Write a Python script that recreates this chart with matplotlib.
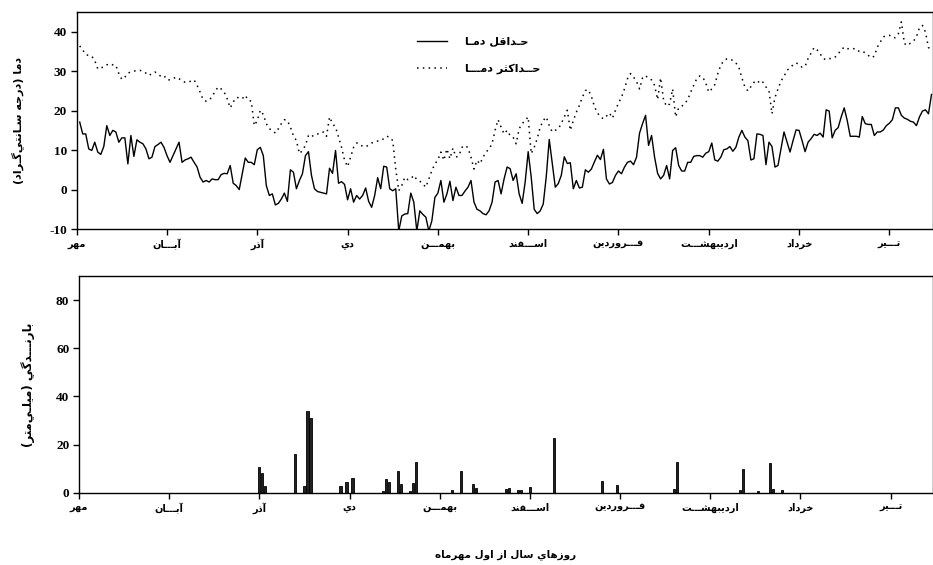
import numpy as np
import matplotlib
matplotlib.use("Agg")
import matplotlib.pyplot as plt

# persian letters -> (isolated, final, initial, medial) presentation forms
FORMS = {
    'ا': '\ufe8d\ufe8e', 'آ': '\ufe81\ufe82', 'د': '\ufea9\ufeaa', 'ذ': '\ufeab\ufeac',
    'ر': '\ufead\ufeae', 'ز': '\ufeaf\ufeb0', 'و': '\ufeed\ufeee',
    'ب': '\ufe8f\ufe90\ufe91\ufe92', 'ت': '\ufe95\ufe96\ufe97\ufe98',
    'ث': '\ufe99\ufe9a\ufe9b\ufe9c', 'ج': '\ufe9d\ufe9e\ufe9f\ufea0',
    'ح': '\ufea1\ufea2\ufea3\ufea4', 'خ': '\ufea5\ufea6\ufea7\ufea8',
    'س': '\ufeb1\ufeb2\ufeb3\ufeb4', 'ش': '\ufeb5\ufeb6\ufeb7\ufeb8',
    'ف': '\ufed1\ufed2\ufed3\ufed4', 'ق': '\ufed5\ufed6\ufed7\ufed8',
    'ل': '\ufedd\ufede\ufedf\ufee0', 'م': '\ufee1\ufee2\ufee3\ufee4',
    'ن': '\ufee5\ufee6\ufee7\ufee8', 'ه': '\ufee9\ufeea\ufeeb\ufeec',
    'ي': '\ufef1\ufef2\ufef3\ufef4', 'ک': '\ufb8e\ufb8f\ufb90\ufb91',
    'گ': '\ufb92\ufb93\ufb94\ufb95',
}
DUAL = set('بتثجحخسشفقلمنهيکگـ')
RIGHT = set('اآدذرزو')


def fa(s):
    out = []
    for i, c in enumerate(s):
        if c not in FORMS:
            out.append(c)
            continue
        prev = s[i - 1] if i > 0 else ''
        nxt = s[i + 1] if i < len(s) - 1 else ''
        jp = prev in DUAL
        jn = c in DUAL and (nxt in DUAL or nxt in RIGHT)
        f = FORMS[c]
        if len(f) == 2:
            out.append(f[1] if jp else f[0])
        else:
            out.append(f[3] if jp and jn else f[1] if jp else f[2] if jn else f[0])
    vis = ''.join(reversed(out)).replace('\u200c', '')
    return vis.translate(str.maketrans('()', ')('))


# daily minimum / maximum temperature, day 1 = 1 Mehr
tmin = [17.1, 14.1, 14.1, 10.3, 9.9, 12.0, 9.5, 8.9, 10.9, 16.2,
        13.7, 15.0, 14.6, 12.0, 13.1, 13.1, 6.5, 13.7, 8.4, 12.6,
        12.0, 11.6, 10.3, 7.8, 8.2, 10.9, 11.4, 12.0, 10.7, 8.6,
        6.9, 8.6, 10.3, 12.0, 6.9, 7.5, 7.8, 8.2, 6.9, 5.7,
        3.1, 1.9, 2.3, 1.9, 2.7, 2.5, 2.5, 3.8, 4.1, 4.0,
        6.1, 1.6, 1.0, 0.0, 4.0, 8.0, 6.9,
        6.9, 6.3, 10.1, 10.7, 8.6, 1.0, -1.5, -1.1, -3.9, -3.5,
        -2.4, -0.9, -3.0, 5.0, 4.4, 0.2, 2.3, 4.0, 8.6, 9.6,
        3.6, 0.2, -0.5, -0.7, -0.9, -1.1, 5.4, 4.1, 9.9, 1.6,
        2.0, 1.3, -2.6, 0.2, -3.2, -1.5, -2.4, -1.5, 0.4, -3.0,
        -4.5, -1.5, 3.0, 0.2, 5.9, 5.7, 0.2, -0.3, 0.2, -10.5,
        -6.7, -6.2, -6.1, -0.9, -3.2, -10.5, -5.4,
        -6.3, -7.0, -10.5, -7.9, -2.0, -0.9, 2.3, -3.2, -1.1, 2.1,
        -2.8, 0.6, -1.5, -1.5, -0.4, 0.6, 2.3, -3.2, -5.0, -5.4,
        -6.1, -6.4, -5.4, -3.2, 1.9, 2.3, -1.1, 2.7, 5.7, 5.3,
        2.3, 4.0, -1.1, -3.5, 1.9, 9.6, 3.2, -5.0, -6.1, -5.4,
        -3.7, 3.2, 12.7, 6.6, 0.6, 1.5, 3.6, 8.3, 6.6, 6.8,
        0.2, 2.3, 0.4, 0.6, 5.0, 4.4, 5.2, 7.0, 8.7, 7.6,
        10.2, 2.7, 1.4, 1.8, 3.6, 4.7,
        4.0, 5.7, 6.9, 7.2, 6.3, 8.2, 14.3, 16.7, 18.8, 11.2,
        13.7, 8.2, 4.1, 2.7, 3.6, 6.1, 2.7, 9.9, 10.6, 6.1,
        4.7, 4.7, 6.9, 6.9, 8.4, 8.6, 8.6, 8.2, 9.2, 9.6,
        11.8, 7.5, 7.2, 8.2, 10.1, 10.3, 10.9, 9.7, 10.7, 13.3,
        15.0, 13.3, 12.4, 7.5, 7.8, 14.1, 14.0,
        13.7, 6.3, 12.0, 10.9, 5.7, 6.1, 10.3, 14.6, 12.0, 9.5,
        12.4, 15.1, 15.0, 12.4, 9.6, 12.0, 12.9, 14.0, 13.7, 14.3,
        13.3, 20.2, 19.9, 13.1, 15.0, 15.7, 18.4, 20.7, 17.5, 13.5,
        13.5, 13.5, 13.3, 18.5, 16.7, 16.5, 16.5, 13.7, 14.6, 14.6,
        15.1, 16.2, 16.8, 17.7, 20.7, 20.7, 18.8, 18.1, 17.8, 17.3,
        17.1, 16.2, 18.4, 19.9, 20.2, 19.2, 24.1]

tmax = [36.4, 35.4, 34.2, 34.0, 33.8, 32.7, 30.6, 30.9, 31.0, 31.6,
        31.9, 31.6, 31.5, 29.4, 27.9, 28.5, 29.5, 29.8, 30.0, 30.2,
        30.2, 30.0, 29.5, 28.9, 29.4, 29.8, 29.2, 28.7, 28.9, 27.8,
        27.8, 28.1, 28.5, 28.1, 27.5, 27.2, 27.2, 27.5, 27.8, 26.4,
        24.7, 22.8, 22.4, 22.6, 23.6, 24.9, 26.0, 25.5, 24.7, 23.0,
        20.7, 22.2, 23.3, 23.3, 23.0, 23.9, 22.6,
        22.4, 16.2, 17.5, 20.1, 19.0, 16.7, 15.4, 15.0, 14.3, 15.4,
        16.7, 17.7, 17.5, 15.8, 13.7, 12.4, 9.1, 9.9, 11.2, 13.7,
        13.3, 14.0, 14.1, 14.1, 14.6, 13.5, 18.4, 16.7, 15.8, 13.3,
        10.7, 7.4, 5.8, 8.2, 10.7, 11.8, 11.6, 10.9, 10.9, 11.2,
        11.8, 12.0, 12.3, 12.4, 12.9, 13.5, 13.3, 12.4, 5.2, -0.3,
        1.0, 3.1, 2.5, 2.7, 3.6, 2.5, 2.1,
        1.4, 0.6, 2.7, 4.8, 6.5, 7.5, 9.5, 7.4, 10.3, 7.8,
        10.5, 8.2, 8.6, 10.7, 11.2, 10.6, 8.2, 5.2, 7.4, 6.5,
        8.2, 9.5, 10.3, 11.6, 15.0, 17.7, 15.8, 14.1, 15.0, 13.7,
        13.3, 11.6, 15.4, 16.7, 17.5, 18.4, 9.1, 10.7, 12.9, 15.8,
        17.5, 18.4, 16.2, 14.6, 15.0, 15.4, 16.7, 18.4, 20.1, 15.0,
        17.5, 19.6, 21.3, 23.4, 25.1, 25.3,
        23.6, 21.1, 19.4, 18.5, 17.9, 18.6, 19.4, 18.1, 20.1, 21.9,
        23.4, 25.5, 28.1, 29.4, 28.5, 27.4, 25.5, 28.3, 28.9, 28.1,
        27.8, 26.4, 22.8, 28.3, 22.6, 21.1, 21.7, 25.5, 18.4, 20.7,
        21.1, 21.7, 22.8, 24.7, 26.4, 28.1, 28.8, 28.5, 27.0, 24.7,
        25.5, 26.6, 29.4, 31.5, 32.7, 33.1, 33.1, 32.7, 32.1, 31.0,
        28.3, 26.0, 25.0, 26.1, 27.2,
        26.8, 27.7, 27.2, 26.0, 25.1, 19.2, 23.3, 25.5, 27.5, 28.7,
        30.2, 30.9, 31.6, 32.1, 31.7, 31.0, 31.2, 33.2, 34.6, 36.0,
        35.4, 34.4, 33.2, 32.9, 33.2, 33.2, 33.6, 34.4, 35.4, 36.1,
        35.7, 35.7, 35.7, 35.7, 35.0, 35.1, 34.6, 34.0, 33.4, 33.8,
        36.1, 37.4, 38.7, 39.0, 39.1, 38.5, 38.5, 39.5, 42.5, 37.0,
        36.5, 37.1, 37.6, 38.7, 41.0, 41.6, 39.9, 36.0, 35.3]

# rainy days (days after 1 Mehr) and rainfall in mm
rain_day = [60, 61, 62, 72, 75, 76, 77, 87, 89, 91,
            101, 102, 103, 106, 107, 110, 111, 112, 124, 127,
            131, 132, 142, 143, 146, 147, 150, 158, 174, 179,
            198, 199, 220, 221, 226, 230, 231, 234]
rain_mm = [10.5, 8.2, 2.8, 16.0, 2.6, 34.0, 31.2, 2.6, 4.6, 6.1,
           0.8, 5.8, 4.3, 8.9, 3.75, 0.8, 3.9, 12.6, 1.1, 9.2,
           3.6, 1.9, 1.5, 1.8, 1.0, 1.0, 2.4, 22.9, 4.7, 3.1,
           1.4, 12.9, 1.1, 9.9, 0.5, 12.4, 1.5, 1.1]

months = ['مهر', 'آبـــان', 'آذر', 'دي', 'بهمـــن', 'اســـفند',
          'فـــروردين', 'ارديبهشـــت', 'خرداد', 'تـــير']
month_start = [0, 30, 60, 90, 120, 150, 180, 210, 240, 270]

days = np.arange(1, len(tmin) + 1)

plt.rcParams['axes.unicode_minus'] = False
fa_font = dict(family=['DejaVu Sans'], weight='bold')
num_font = dict(family=['Liberation Serif'], weight='bold', size=9.5)

W, H = 933, 565
fig = plt.figure(figsize=(W / 100, H / 100), dpi=100)
ax1 = fig.add_axes([76.7 / W, 1 - 229 / H, 856 / W, 217 / H])
ax2 = fig.add_axes([79 / W, 1 - 492.7 / H, 853.7 / W, 216.7 / H])

ax1.plot(days, tmin, color='black', lw=1.0, label=fa('حـداقل دمـا'))
ax1.plot(days, tmax, color='black', lw=1.1, linestyle=(0, (1, 2.8)),
         label=fa('حــداکثر دمـــا'))
ax1.set_xlim(0, 284.4)
ax1.set_ylim(-10, 45)
ax1.set_yticks([-10, 0, 10, 20, 30, 40])
ax1.set_ylabel(fa('دما (درجه سـانتي‌گـراد)'), fontsize=8, **fa_font)
ax1.yaxis.set_label_coords(-0.062, 0.5)
leg = ax1.legend(loc='upper left', bbox_to_anchor=(0.386, 0.93), frameon=False,
                 handlelength=2.7, handletextpad=1.6, labelspacing=1.45,
                 prop=dict(family='DejaVu Sans', weight='bold', size=8))

ax2.bar(rain_day, rain_mm, width=0.7, color='#222222', edgecolor='black', lw=0.6)
ax2.set_xlim(0, 284)
ax2.set_ylim(0, 90)
ax2.set_yticks([0, 20, 40, 60, 80])
ax2.set_ylabel(fa('بارنـــدگي (ميلـي‌متر)'), fontsize=8.5, **fa_font)
ax2.yaxis.set_label_coords(-0.051, 0.5)
ax2.set_xlabel(fa('روزهاي سال از اول مهرماه'), fontsize=7.5, labelpad=25, **fa_font)

for ax in (ax1, ax2):
    ax.set_xticks(month_start)
    ax.set_xticklabels([fa(m) for m in months], fontsize=7, **fa_font)
    for t in ax.get_yticklabels():
        t.set_fontproperties(num_font)
    ax.tick_params(direction='out', length=4, width=1, pad=3)
    for s in ax.spines.values():
        s.set_linewidth(1.0)

fig.savefig('out.png', dpi=100)
